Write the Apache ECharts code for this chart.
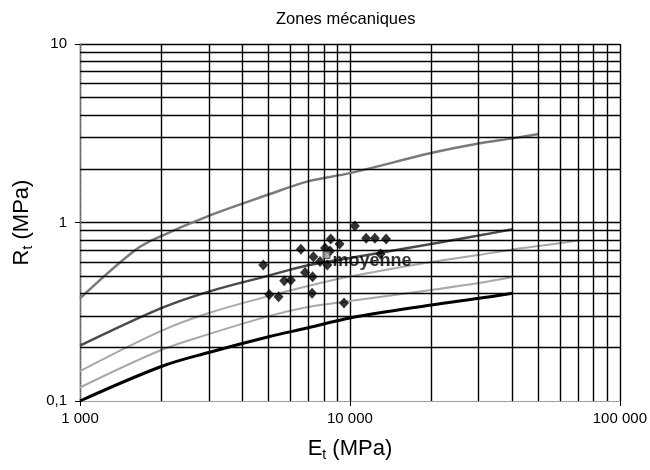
<!DOCTYPE html>
<html><head><meta charset="utf-8">
<script src="https://cdn.jsdelivr.net/npm/echarts@6/dist/echarts.min.js"></script>
<style>html,body{margin:0;padding:0;background:#fff}#c{width:650px;height:470px}</style>
</head><body><div id="c"></div>
<script>
// Minor grid values (log axes)
const xMinorGrid = [2000,3000,4000,5000,6000,7000,8000,9000,20000,30000,40000,50000,60000,70000,80000,90000];
const yMinorGrid = [0.2,0.3,0.4,0.5,0.6,0.7,0.8,0.9,2,3,4,5,6,7,8,9];

// Curves (Et in MPa, Rt in MPa)
const topE   = [1000,1600,2000,3000,5000,7000,10000,20000,30000,40000,50000];
const topR   = [0.376,0.70,0.84,1.09,1.435,1.70,1.89,2.45,2.77,2.96,3.13];
const darkE  = [1000,2000,3000,5000,7000,10000,20000,30000,40000];
const darkR  = [0.204,0.331,0.410,0.504,0.576,0.632,0.758,0.845,0.916];
const lightAE = [1000,2000,3000,5000,7000,10000,20000,30000,40000,50000,70000];
const lightAR = [0.147,0.247,0.311,0.387,0.441,0.498,0.601,0.657,0.706,0.738,0.793];
const lightBE = [1000,2000,3000,5000,7000,10000,20000,30000,40000];
const lightBR = [0.119,0.193,0.237,0.299,0.336,0.363,0.419,0.458,0.495];
const blackE = [1000,2000,3000,5000,7000,10000,20000,30000,40000];
const blackR = [0.100,0.156,0.187,0.229,0.257,0.292,0.345,0.376,0.401];

// Measured points
const ptsE = [10430,11480,12370,13610,8490,9150,6580,8085,7320,7750,8245,4775,6820,7270,5710,6040,7240,5025,5440,9505,12980,8435];
const ptsR = [0.956,0.816,0.816,0.808,0.808,0.758,0.708,0.720,0.643,0.605,0.578,0.578,0.525,0.497,0.472,0.474,0.401,0.395,0.384,0.354,0.666,0.692];

// Mean point
const meanE = [8190];
const meanR = [0.658];
const meanLabel = 'moyenne';

const FONT = 'Liberation Sans, Arial, sans-serif';
const pair = (a, b) => a.map((v, i) => [v, b[i]]);

const chart = echarts.init(document.getElementById('c'), null, {renderer: 'canvas'});

function curve(E, R, color, width) {
  return {
    type: 'line', data: pair(E, R), showSymbol: false, smooth: 0.35,
    lineStyle: {color: color, width: width}, z: 3, silent: true, animation: false
  };
}

const nameRich = {
  a: {fontFamily: FONT, fontSize: 22, lineHeight: 26, color: '#000'},
  s: {fontFamily: FONT, fontSize: 14, lineHeight: 12, verticalAlign: 'bottom', color: '#000'}
};

chart.setOption({
  animation: false,
  title: {
    text: 'Zones mécaniques', left: 271, top: 6,
    textStyle: {fontFamily: FONT, fontSize: 16.5, fontWeight: 'normal', color: '#000'}
  },
  grid: {left: 80, right: 28, top: 44, bottom: 69},
  xAxis: {
    type: 'log', logBase: 10, min: 1000, max: 100000,
    name: '{a|E}{s|t}{a| (MPa)}', nameLocation: 'middle', nameGap: 35,
    nameTextStyle: {rich: nameRich},
    axisLine: {show: true, lineStyle: {color: '#888', type: 'dotted', width: 1}},
    axisTick: {show: true, length: 5, lineStyle: {color: '#000'}},
    axisLabel: {
      fontFamily: FONT, fontSize: 15, color: '#000', margin: 10,
      formatter: v => String(Math.round(v)).replace(/\B(?=(\d{3})+(?!\d))/g, ' ')
    },
    splitLine: {show: true, showMinLine: false, lineStyle: {color: '#000', width: 1.4}}
  },
  yAxis: {
    type: 'log', logBase: 10, min: 0.1, max: 10,
    name: '{a|R}{s|t}{a| (MPa)}', nameLocation: 'middle', nameGap: 30, nameRotate: 90,
    nameTextStyle: {rich: nameRich},
    axisLine: {show: true, lineStyle: {color: '#888', type: 'dotted', width: 1}},
    axisTick: {show: true, length: 5, lineStyle: {color: '#000'}},
    axisLabel: {
      fontFamily: FONT, fontSize: 15, color: '#000', margin: 13,
      formatter: v => String(Math.round(v * 100) / 100).replace('.', ',')
    },
    splitLine: {show: true, showMinLine: false, lineStyle: {color: '#000', width: 1.4}}
  },
  series: [
    {
      type: 'scatter', data: [], silent: true, z: 1,
      markLine: {
        silent: true, symbol: ['none', 'none'], animation: false,
        label: {show: false},
        lineStyle: {color: '#000', type: 'solid', width: 1.4},
        emphasis: {disabled: true},
        data: xMinorGrid.map(v => ({xAxis: v})).concat(yMinorGrid.map(v => ({yAxis: v})))
      }
    },
    curve(topE, topR, '#7a7a7a', 2.5),
    curve(darkE, darkR, '#4a4a4a', 2.5),
    curve(lightAE, lightAR, '#a8a8a8', 2),
    curve(lightBE, lightBR, '#a8a8a8', 2),
    curve(blackE, blackR, '#000', 3),
    {
      type: 'scatter', data: pair(ptsE, ptsR), symbol: 'diamond', symbolSize: [10, 11],
      itemStyle: {color: '#000'}, z: 5, silent: true
    },
    {
      type: 'scatter', data: pair(meanE, meanR), symbol: 'rect', symbolSize: 7,
      itemStyle: {color: '#9a9a9a', borderColor: '#333', borderWidth: 1}, z: 6, silent: true,
      label: {
        show: true, position: 'right', distance: 2, offset: [0, 6],
        formatter: meanLabel, fontFamily: FONT, fontSize: 18, fontWeight: 'bold', color: '#000'
      }
    }
  ]
});
</script>
</body></html>
